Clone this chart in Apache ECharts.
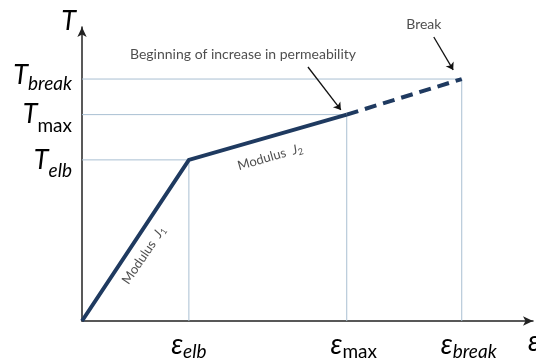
<!DOCTYPE html>
<html><head><meta charset="utf-8">
<script src="https://cdn.jsdelivr.net/npm/echarts@6/dist/echarts.min.js"></script>
<style>html,body{margin:0;padding:0;background:#fff}#c{width:536px;height:361px}</style>
</head><body><div id="c"></div>
<script>
// Key points of the tensile curve (arbitrary units, 0..100 on both axes)
const strainPts = [0, 23.7, 58.7, 84.2];   // origin, ε_elb, ε_max, ε_break
const tensionPts = [0, 54.8, 70.2, 82.3];  // origin, T_elb, T_max, T_break
const subNames = ['elb', 'max', 'break'];
const xTickValues = strainPts.slice(1);
const yTickValues = tensionPts.slice(1);
// Annotations (data units)
const noteTexts = ['Beginning of increase in permeability', 'Break'];
const notePos = [[35.7, 90.5], [75.8, 101.0]];
const arrowFrom = [[50.1, 86.4], [78.0, 96.6]];
const arrowTo = [[57.4, 71.8], [82.3, 85.4]];
const modulusTexts = ['J2', 'J1'];
const modulusPos = [[41.7, 55.8], [13.7, 22.4]];

const FONT = 'Lato';
const NAVY = '#1f3a60';
const GUIDE = '#a9bfd2';

const base = { fontFamily: FONT, color: '#000' };
const LH = 41;
const richY = {
  t: Object.assign({}, base, { fontStyle: 'italic', fontSize: 27, lineHeight: LH, verticalAlign: 'top', padding: [7, 0, 0, 0] }),
  s: Object.assign({}, base, { fontStyle: 'italic', fontSize: 19, lineHeight: LH, verticalAlign: 'bottom' }),
  m: Object.assign({}, base, { fontSize: 19, lineHeight: LH, verticalAlign: 'bottom' }),
  // T_break sits a little higher than its guide line
  tb: Object.assign({}, base, { fontStyle: 'italic', fontSize: 27, lineHeight: LH, verticalAlign: 'top', padding: [3, 0, 0, 0] }),
  sb: Object.assign({}, base, { fontStyle: 'italic', fontSize: 19, lineHeight: LH, verticalAlign: 'bottom', padding: [0, 0, 6, 0] })
};
const richX = {
  e: Object.assign({}, base, { fontStyle: 'italic', fontSize: 28, lineHeight: 30, verticalAlign: 'top' }),
  ep: Object.assign({}, base, { fontStyle: 'italic', fontSize: 28, lineHeight: 30, verticalAlign: 'top', padding: [0, 0, 0, 14] }),
  s: Object.assign({}, base, { fontStyle: 'italic', fontSize: 19, lineHeight: 30, verticalAlign: 'bottom' }),
  m: Object.assign({}, base, { fontSize: 19, lineHeight: 30, verticalAlign: 'bottom' })
};
function nearest(values, v) {
  let best = 0;
  values.forEach((x, i) => { if (Math.abs(x - v) < Math.abs(values[best] - v)) best = i; });
  return best;
}
function yLabel(v) {
  const n = subNames[nearest(yTickValues, v)];
  if (n === 'break') return '{tb|T}{sb|' + n + '}';
  return '{t|T}{' + (n === 'max' ? 'm' : 's') + '|' + n + '}';
}
function xLabel(v) {
  const n = subNames[nearest(xTickValues, v)];
  return '{' + (n === 'elb' ? 'e' : 'ep') + '|ε}{' + (n === 'max' ? 'm' : 's') + '|' + n + '}';
}

const guides = strainPts.slice(1).map((x, i) => ({
  type: 'line', silent: true, symbol: 'none', z: 1,
  lineStyle: { color: GUIDE, width: 1 },
  data: [[0, tensionPts[i + 1]], [x, tensionPts[i + 1]], [x, 0]]
}));

const yCommon = { type: 'value', min: 0, max: 100, position: 'left', splitLine: { show: false }, axisTick: { show: false } };

const chart = echarts.init(document.getElementById('c'), null, { renderer: 'canvas' });
chart.setOption({
  animation: false,
  grid: { left: 82, right: 3, top: 27, bottom: 40, containLabel: false, outerBoundsMode: 'none' },
  xAxis: {
    type: 'value', min: 0, max: 100, splitLine: { show: false },
    axisLine: { lineStyle: { color: '#222', width: 1.5 }, symbol: ['none', 'arrow'], symbolSize: [7, 10] },
    axisTick: { show: false },
    axisLabel: { customValues: xTickValues, formatter: xLabel, rich: richX, margin: 10 },
    name: 'ε', nameLocation: 'end', nameGap: -5, nameMoveOverlap: false,
    nameTextStyle: { fontFamily: FONT, fontStyle: 'italic', fontSize: 28, color: '#000', align: 'left', verticalAlign: 'top', padding: [7, 0, 0, 0] }
  },
  yAxis: [
    Object.assign({}, yCommon, {
      axisLine: { lineStyle: { color: '#222', width: 1.5 }, symbol: ['none', 'arrow'], symbolSize: [7, 10] },
      axisLabel: { customValues: [yTickValues[0], yTickValues[2]], formatter: yLabel, rich: richY, margin: 10 },
      name: 'T', nameLocation: 'end', nameGap: 6, nameMoveOverlap: false,
      nameTextStyle: { fontFamily: FONT, fontStyle: 'italic', fontSize: 27, color: '#000', align: 'right', verticalAlign: 'middle', padding: [0, 6, 0, 0] }
    }),
    Object.assign({}, yCommon, {
      axisLine: { show: false },
      axisLabel: { customValues: [yTickValues[1]], formatter: yLabel, rich: richY, margin: 10 }
    })
  ],
  series: guides.concat([
    {
      type: 'line', symbol: 'none', z: 3,
      lineStyle: { color: NAVY, width: 4, cap: 'butt', join: 'miter' },
      data: [[strainPts[0], tensionPts[0]], [strainPts[1], tensionPts[1]], [strainPts[2], tensionPts[2]]]
    },
    {
      type: 'line', symbol: 'none', z: 3,
      lineStyle: { color: NAVY, width: 4, type: [12, 7], cap: 'butt' },
      data: [[strainPts[2], tensionPts[2]], [strainPts[3], tensionPts[3]]]
    },
    {
      type: 'lines', coordinateSystem: 'cartesian2d', z: 4, silent: true,
      symbol: ['none', 'arrow'], symbolSize: 7,
      lineStyle: { color: '#111', width: 1.3, opacity: 1 },
      data: arrowFrom.map((p, i) => ({ coords: [p, arrowTo[i]] }))
    },
    {
      type: 'scatter', symbolSize: 0, clip: false, silent: true, z: 5,
      label: { show: true, position: 'inside', fontFamily: FONT, fontSize: 14, color: '#222',
        formatter: p => noteTexts[p.dataIndex] },
      data: notePos
    },
    {
      type: 'scatter', symbolSize: 0, clip: false, silent: true, z: 5,
      label: { show: true, position: 'inside', fontFamily: FONT, fontSize: 13, color: '#222',
        formatter: p => '{a|Modulus  }{j|J}{n|' + modulusTexts[p.dataIndex].slice(1) + '}',
        rich: {
          a: { fontFamily: FONT, fontSize: 13, color: '#222' },
          j: { fontFamily: FONT, fontSize: 13, color: '#222', fontStyle: 'italic' },
          n: { fontFamily: FONT, fontSize: 9, color: '#222', padding: [7, 0, 0, 0] }
        }
      },
      data: modulusPos.map((p, i) => ({ value: p, label: { rotate: i === 0 ? 16 : 56 } }))
    }
  ])
});
</script></body></html>
